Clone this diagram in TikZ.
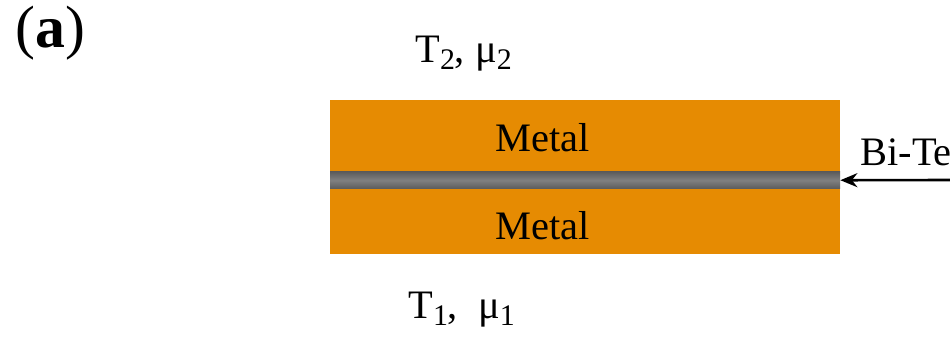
\documentclass[tikz,border=0pt]{standalone}
\usepackage{fontspec}
\setmainfont{Liberation Serif}
\definecolor{metalorange}{RGB}{230,139,2}
\definecolor{layergray}{RGB}{128,128,128}
\definecolor{layeredge}{RGB}{92,92,92}
\usetikzlibrary{arrows.meta,positioning}
\newcommand{\lowidx}[1]{\raisebox{-0.4ex}{\fontsize{17}{17}\selectfont #1}}

\begin{document}
\begin{tikzpicture}[
  metalbox/.style={fill=metalorange,draw=none,minimum width=10.2cm,inner sep=0pt},
  layerbox/.style={draw=none,minimum width=10.2cm,minimum height=0.34cm,inner sep=0pt,
    top color=layeredge,bottom color=layeredge,middle color=layergray},
  lbl/.style={font=\fontsize{23}{27}\selectfont,inner sep=0pt},
  arr/.style={-{Stealth[length=3.4mm,width=2.8mm]},line width=1.5pt,black}
]
  \useasboundingbox (0,0) rectangle (19,6.74);
  % Stack
  \node[metalbox,minimum height=1.42cm] (top) at (11.7,4.03) {};
  \node[layerbox,below=0pt of top] (layer) {};
  \node[metalbox,minimum height=1.3cm,below=0pt of layer] (bottom) {};
  % Labels
  \node[lbl] (mtop) at (10.86,3.98) {Metal};
  \node[lbl] (mbot) at (10.86,2.22) {Metal};
  \node[lbl,anchor=base west] (upper) at (8.3,5.5) {T\lowidx{2}, μ\lowidx{2}};
  \node[lbl,anchor=base west] (lower) at (8.16,0.38) {T\lowidx{1},\ \ μ\lowidx{1}};
  \node[lbl,anchor=base west] (bite) at (17.2,3.44) {Bi-Te};
  \node[lbl,anchor=base west,font=\fontsize{34}{36}\selectfont] (panel) at (0.3,5.8) {(\textbf{a})};
  % Pointer
  \coordinate (tail) at (19.3,3.14);
  \draw[arr] (tail) -- (layer.east);
\end{tikzpicture}
\end{document}
